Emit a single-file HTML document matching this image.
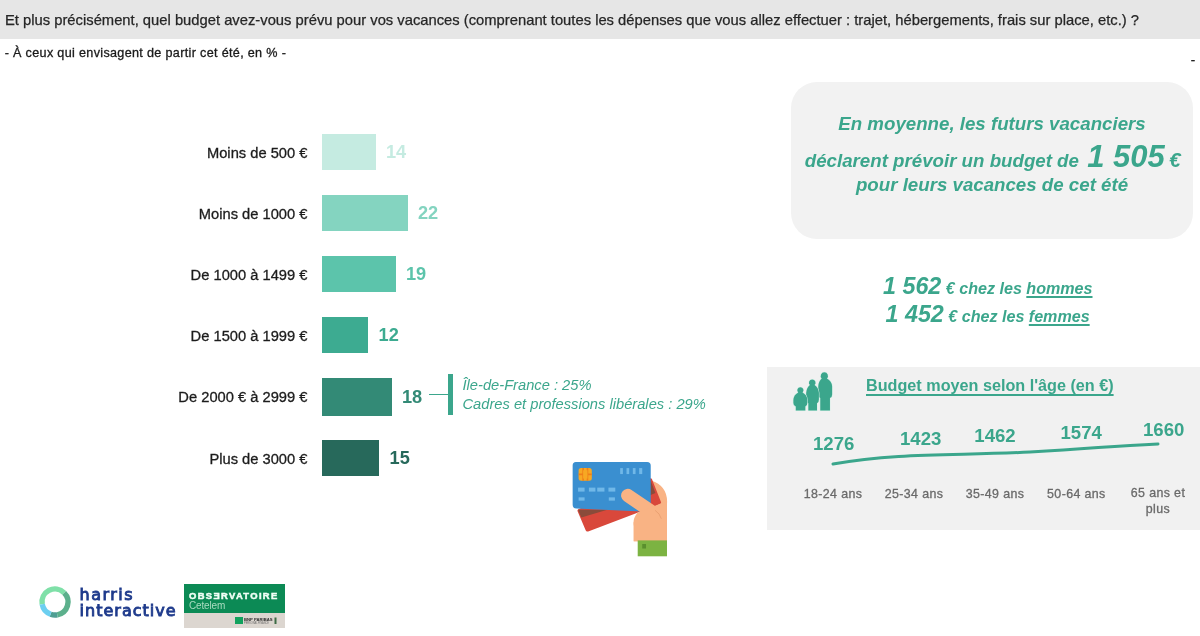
<!DOCTYPE html>
<html lang="fr">
<head>
<meta charset="utf-8">
<title>Budget vacances</title>
<style>
*{margin:0;padding:0;box-sizing:border-box}
html,body{width:1200px;height:636px;overflow:hidden;background:#fff}
body{position:relative;font-family:"Liberation Sans",sans-serif;color:#222}
.abs{position:absolute;white-space:nowrap;line-height:1}
#hdr{left:0;top:0;width:1200px;height:39.3px;background:#e6e6e6}
#q{left:5px;top:12.8px;font-size:14.77px;color:#262626;-webkit-text-stroke:0.25px #262626}
#sub{left:4.7px;top:47.1px;font-size:12.6px;letter-spacing:0.33px;color:#1a1a1a;-webkit-text-stroke:0.3px #1a1a1a}
#dash{left:1190.8px;top:52.6px;font-size:13.35px;color:#111;-webkit-text-stroke:0.3px #111}
.lbl{right:892.6px;font-size:14.7px;color:#1c1c1c;-webkit-text-stroke:0.3px #1c1c1c;text-align:right}
.bar{left:322px;height:36px}
.val{font-size:18.2px;font-weight:bold}
.g{color:#3ba68c}
.bi{font-weight:bold;font-style:italic}
#box{left:791px;top:82.4px;width:401.6px;height:156.6px;border-radius:26px;background:#f2f2f2}
.ctr{text-align:center}
.ul{text-decoration:underline;text-decoration-thickness:2px;text-underline-offset:2.2px;text-decoration-skip-ink:none}
#agebox{left:766.6px;top:366.6px;width:434px;height:163.8px;background:#f1f1f1}
.num{font-size:18.6px;font-weight:bold;color:#3ba68c}
.hi{font-family:"DejaVu Sans","Liberation Sans",sans-serif;font-size:16px;color:#1f3b8c;letter-spacing:1.02px;-webkit-text-stroke:0.9px #1f3b8c}
.age{font-size:12.4px;letter-spacing:0.39px;-webkit-text-stroke:0.3px #6a6a6a;color:#6a6a6a;text-align:center}
</style>
</head>
<body>
<div id="hdr" class="abs"></div>
<div id="q" class="abs">Et plus précisément, quel budget avez-vous prévu pour vos vacances (comprenant toutes les dépenses que vous allez effectuer : trajet, hébergements, frais sur place, etc.) ?</div>
<div id="sub" class="abs">- À ceux qui envisagent de partir cet été, en % -</div>
<div id="dash" class="abs">-</div>

<!-- bar chart -->
<div class="abs lbl" style="top:145.5px">Moins de 500 €</div>
<div class="abs lbl" style="top:206.5px">Moins de 1000 €</div>
<div class="abs lbl" style="top:267.5px">De 1000 à 1499 €</div>
<div class="abs lbl" style="top:328.5px">De 1500 à 1999 €</div>
<div class="abs lbl" style="top:389.5px">De 2000 € à 2999 €</div>
<div class="abs lbl" style="top:451.7px">Plus de 3000 €</div>

<div class="abs bar" style="top:134px;width:54px;background:#c5ebe1"></div>
<div class="abs bar" style="top:195px;width:86px;background:#84d4c0"></div>
<div class="abs bar" style="top:256px;width:74px;background:#5cc4ab"></div>
<div class="abs bar" style="top:317px;width:46px;background:#3dab91"></div>
<div class="abs bar" style="top:378px;width:70px;height:38px;background:#338a76"></div>
<div class="abs bar" style="top:440px;width:57px;background:#27695b"></div>

<div class="abs val" style="left:386px;top:143px;color:#c5ebe1">14</div>
<div class="abs val" style="left:418px;top:204px;color:#84d4c0">22</div>
<div class="abs val" style="left:406px;top:265px;color:#5cc4ab">19</div>
<div class="abs val" style="left:378.6px;top:326px;color:#3dab91">12</div>
<div class="abs val" style="left:402px;top:388px;color:#338a76">18</div>
<div class="abs val" style="left:389.6px;top:448.6px;color:#27695b">15</div>

<div class="abs" style="left:429px;top:394px;width:20px;height:1px;background:#3ba68c"></div>
<div class="abs" style="left:448px;top:374px;width:5px;height:41px;background:#3ba68c"></div>
<div class="abs g" style="left:462.5px;top:378px;font-size:14.7px;font-style:italic">Île-de-France : 25%</div>
<div class="abs g" style="left:462.5px;top:397px;font-size:14.7px;font-style:italic">Cadres et professions libérales : 29%</div>

<!-- average box -->
<div id="box" class="abs"></div>
<div class="abs g bi ctr" style="left:791px;width:402px;top:114.6px;font-size:18.7px">En moyenne, les futurs vacanciers</div>
<div class="abs g bi" style="left:804.8px;top:140.5px;font-size:18.7px">déclarent prévoir un budget de <span style="font-size:31px;margin-left:3px">1 505</span><span style="font-size:20.5px;margin-left:4.5px">€</span></div>
<div class="abs g bi ctr" style="left:791px;width:402px;top:176.2px;font-size:18.7px">pour leurs vacances de cet été</div>

<div class="abs g bi" style="left:883px;top:274.7px;font-size:16.1px"><span style="font-size:23.3px">1 562</span> € chez les <span class="ul">hommes</span></div>
<div class="abs g bi" style="left:885.5px;top:302.9px;font-size:16.1px"><span style="font-size:23.3px">1 452</span> € chez les <span class="ul">femmes</span></div>

<!-- age box -->
<div id="agebox" class="abs"></div>
<div class="abs g" style="left:866px;top:377.4px;font-size:16.2px;font-weight:bold;text-decoration:underline;text-decoration-thickness:1.6px;text-underline-offset:2.6px;text-decoration-skip-ink:none">Budget moyen selon l'âge (en €)</div>
<div class="abs num" style="left:813px;top:435.3px">1276</div>
<div class="abs num" style="left:900px;top:430.3px">1423</div>
<div class="abs num" style="left:974.3px;top:427.4px">1462</div>
<div class="abs num" style="left:1060.5px;top:423.5px">1574</div>
<div class="abs num" style="left:1143px;top:421.4px">1660</div>
<svg class="abs" style="left:767px;top:367px" width="433" height="164" viewBox="767 367 433 164">
<path d="M833 464 C 900 452, 960 456, 1030 452 S 1110 446, 1158 444" fill="none" stroke="#3ba68c" stroke-width="3" stroke-linecap="round"/>
</svg>
<div class="abs age" style="left:793px;width:80px;top:487.9px">18-24 ans</div>
<div class="abs age" style="left:874px;width:80px;top:487.9px">25-34 ans</div>
<div class="abs age" style="left:955px;width:80px;top:487.9px">35-49 ans</div>
<div class="abs age" style="left:1036.4px;width:80px;top:487.9px">50-64 ans</div>
<div class="abs age" style="left:1118px;width:80px;top:487.9px;white-space:normal;line-height:15.6px;margin-top:-1.6px">65 ans et plus</div>

<!-- people icon -->
<svg class="abs" style="left:785px;top:365px" width="60" height="55" viewBox="0 0 694 636">
<g fill="#3ba68c" stroke="#d4f1e7" stroke-width="12" paint-order="stroke" stroke-linejoin="round">
<path d="M455 85 a42 42 0 0 1 30 71 Q540 185 545 245 V340 Q545 374 520 382 V525 H408 V382 Q385 374 385 340 V245 Q390 185 425 156 a42 42 0 0 1 30 -71Z"/>
<path d="M315 167 a38 38 0 0 1 27 65 Q388 262 392 322 V400 Q392 434 370 442 V525 H270 V442 Q245 434 245 400 V322 Q250 262 288 232 a38 38 0 0 1 27 -65Z"/>
<path d="M178 257 a35 35 0 0 1 25 60 Q255 345 258 405 V440 Q258 472 235 480 V525 H125 V480 Q97 472 97 440 V405 Q100 345 153 317 a35 35 0 0 1 25 -60Z"/>
</g>
</svg>

<!-- credit cards in hand -->
<svg class="abs" style="left:560px;top:450px" width="120" height="115" viewBox="0 0 664 636">
<path d="M505 168 Q600 200 592 300 V505 H408 V400 L505 300 Z" fill="#f9b384"/>
<path d="M500 168 L548 290 L152 440 L108 336 Z" fill="#d9483b" stroke="#d9483b" stroke-width="22" stroke-linejoin="round"/>
<path d="M100 330 L262 330 L118 374 Z" fill="#8a4b3a"/>
<path d="M498 160 L528 238 L498 250 Z" fill="#8a4b3a"/>
<path d="M88 66 H482 Q502 66 502 86 V322 Q502 342 482 341 L90 324 Q70 323 70 303 V86 Q70 66 88 66Z" fill="#3a8fd0"/>
<rect x="103" y="100" width="73" height="70" rx="14" fill="#f7a823"/>
<path d="M103 135 H176 M128 100 V170 M152 100 V170" stroke="#ef7f1a" stroke-width="9" fill="none"/>
<rect x="128" y="112" width="24" height="46" fill="#f7a823"/>
<g fill="#70b8e8">
<rect x="333" y="100" width="15" height="33"/><rect x="368" y="100" width="15" height="33"/><rect x="403" y="100" width="15" height="33"/><rect x="438" y="100" width="17" height="33"/>
<rect x="100" y="208" width="36" height="22"/><rect x="160" y="208" width="36" height="22"/><rect x="206" y="208" width="40" height="22"/><rect x="268" y="208" width="38" height="22"/>
<rect x="103" y="262" width="33" height="18"/><rect x="270" y="262" width="34" height="18"/>
</g>
<path d="M375 252 L520 350" stroke="#f9b384" stroke-width="74" stroke-linecap="round" fill="none"/>
<path d="M430 345 L505 318 L556 296 L592 285 V505 H408 V420 Q400 380 430 345 Z" fill="#f9b384"/>
<path d="M528 335 Q552 350 560 378" stroke="#e89f70" stroke-width="5" fill="none" stroke-linecap="round"/>
<rect x="430" y="500" width="162" height="88" fill="#7cb342"/>
<rect x="455" y="520" width="21" height="25" fill="#5a8f2e"/>
</svg>

<!-- harris interactive logo -->
<svg class="abs" style="left:35.3px;top:582.2px" width="40" height="40" viewBox="-20 -20 40 40">
<g fill="none" stroke-width="5.4">
<path d="M-12.8 2.3 A13 13 0 0 1 9.2 -9.2" stroke="#7fe0a8"/>
<path d="M9.2 -9.2 A13 13 0 0 1 2.3 12.8" stroke="#5cb08c"/>
<path d="M2.3 12.8 A13 13 0 0 1 -4.4 12.2" stroke="#4f9f93"/>
<path d="M-4.4 12.2 A13 13 0 0 1 -12.8 2.3" stroke="#6ccff0"/>
</g>
</svg>
<div class="abs hi" style="left:79.5px;top:587.2px;letter-spacing:1.5px">harris</div>
<div class="abs hi" style="left:79.5px;top:603.4px">interactive</div>

<!-- Observatoire Cetelem logo -->
<div class="abs" style="left:183.5px;top:584px;width:101px;height:28.5px;background:#0c8a55"></div>
<div class="abs" style="left:183.5px;top:612.5px;width:101px;height:15px;background:#dcd6d0"></div>
<div class="abs" style="left:189px;top:591.2px;font-size:9.4px;font-weight:bold;color:#f1fff6;letter-spacing:1.36px;-webkit-text-stroke:0.5px #f1fff6">OBSƎRVATOIRE</div>
<div class="abs" style="left:189px;top:600.5px;font-size:10px;color:#a9dcc0;letter-spacing:-0.15px">Cetelem</div>
<div class="abs" style="left:235px;top:616.5px;width:7.5px;height:7.5px;background:#12a25e"></div>
<svg class="abs" style="left:243px;top:615px" width="36" height="11" viewBox="0 0 36 11">
<text x="1" y="5.6" font-family="Liberation Sans, sans-serif" font-weight="bold" font-size="4.3" fill="#2b2b2b" textLength="28.5" lengthAdjust="spacingAndGlyphs">BNP PARIBAS</text>
<text x="1" y="8.6" font-family="Liberation Sans, sans-serif" font-size="2.6" fill="#6a6a6a" textLength="25" lengthAdjust="spacingAndGlyphs">PERSONAL FINANCE</text>
<rect x="31.5" y="2.5" width="2" height="6.5" fill="#3c6b45"/>
</svg>
</body>
</html>
